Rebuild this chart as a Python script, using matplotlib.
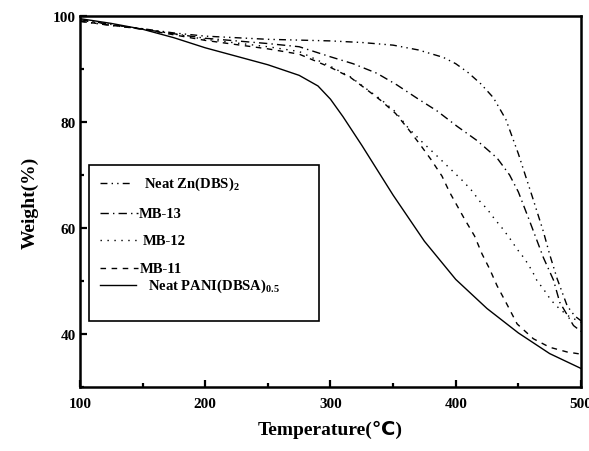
import matplotlib
matplotlib.use("Agg")
import matplotlib.pyplot as plt
from matplotlib.ticker import MultipleLocator
from matplotlib.patches import Rectangle

# TGA curves: temperature (°C) vs residual weight (%)
pani_T = [100, 125, 150, 175, 200, 225, 250, 275, 290, 300, 310, 325, 350, 375, 400, 425, 450, 475, 500]
pani_W = [99.5, 98.6, 97.5, 95.9, 94.0, 92.4, 90.8, 88.8, 86.8, 84.3, 81.0, 75.6, 66.2, 57.5, 50.3, 44.8, 40.2, 36.3, 33.5]

zn_T = [100, 125, 150, 175, 200, 250, 300, 325, 350, 370, 390, 400, 410, 420, 430, 440, 450, 457, 461, 470, 475, 481, 489, 495, 500]
zn_W = [99.0, 98.2, 97.6, 96.8, 96.2, 95.6, 95.3, 95.0, 94.5, 93.6, 92.2, 91.0, 89.3, 87.2, 84.6, 80.5, 74.0, 68.9, 66.0, 59.3, 55.0, 50.4, 45.3, 43.4, 42.5]

mb13_T = [100, 150, 200, 250, 275, 300, 318, 337, 353, 369, 385, 401, 417, 433, 443, 450, 459, 470, 478, 483, 494, 500]
mb13_W = [99.3, 97.5, 95.8, 94.8, 94.2, 92.3, 91.0, 89.2, 87.0, 84.5, 82.1, 79.2, 76.5, 73.2, 70.0, 66.8, 61.3, 54.4, 50.2, 46.0, 41.6, 40.5]

mb12_T = [100, 150, 200, 250, 275, 300, 316, 329, 340, 352, 362, 372, 385, 399, 406, 413, 419, 425, 431, 437, 443, 449, 455, 461, 465, 470, 476, 483, 490, 495, 500]
mb12_W = [99.2, 97.6, 95.6, 94.2, 93.3, 90.5, 88.5, 86.2, 84.3, 81.9, 78.9, 76.5, 73.6, 70.4, 68.8, 67.0, 65.1, 63.6, 61.7, 60.0, 58.1, 56.0, 54.2, 51.9, 50.0, 48.5, 46.4, 44.7, 43.4, 42.8, 42.2]

mb11_T = [100, 150, 200, 250, 275, 300, 316, 329, 340, 352, 362, 372, 380, 389, 395, 407, 415, 421, 427, 433, 440, 449, 462, 475, 489, 500]
mb11_W = [99.0, 97.5, 95.4, 93.8, 92.8, 90.3, 88.4, 86.1, 84.1, 81.6, 78.7, 75.6, 73.0, 69.8, 66.8, 61.7, 58.5, 55.1, 52.3, 49.1, 46.0, 41.9, 39.1, 37.5, 36.6, 36.2]

labels = ["Neat Zn(DBS)$_2$", "MB-13", "MB-12", "MB-11", "Neat PANI(DBSA)$_{0.5}$"]

plt.rcParams["font.family"] = ["Liberation Serif", "DejaVu Serif"]
plt.rcParams["font.weight"] = "bold"
plt.rcParams["mathtext.fontset"] = "custom"
plt.rcParams["mathtext.rm"] = "Liberation Serif:bold"
plt.rcParams["mathtext.it"] = "Liberation Serif:bold"
plt.rcParams["mathtext.bf"] = "Liberation Serif:bold"

fig = plt.figure(figsize=(5.89, 4.52), dpi=100)
ax = fig.add_axes([0.1358, 0.1416, 0.8506, 0.8208])

styles = [
    (0, (5, 3, 1, 3, 1, 3)),   # dash-dot-dot
    (0, (6, 3, 1, 3)),         # dash-dot
    (0, (1, 4)),               # dotted
    (0, (4, 4)),               # dashed
    "-",                       # solid
]
series = [(zn_T, zn_W), (mb13_T, mb13_W), (mb12_T, mb12_W), (mb11_T, mb11_W), (pani_T, pani_W)]

for (t, w), ls in zip(series, styles):
    ax.plot(t, w, color="black", lw=1.0, linestyle=ls)

ax.set_xlim(100, 500)
ax.set_ylim(30, 100)
ax.xaxis.set_major_locator(MultipleLocator(100))
ax.xaxis.set_minor_locator(MultipleLocator(50))
ax.set_yticks([40, 60, 80, 100])
ax.yaxis.set_minor_locator(MultipleLocator(10))
ax.tick_params(which="both", direction="in", width=1.6, top=False, right=False,
               labelsize=11)
ax.tick_params(which="major", length=5)
ax.tick_params(which="minor", length=3)
ax.tick_params(axis="x", pad=7)
ax.tick_params(axis="y", pad=3)
for sp in ax.spines.values():
    sp.set_linewidth(1.8)

ax.set_xlabel("Temperature(℃)", fontsize=14, fontweight="bold",
              family=["Liberation Serif", "DejaVu Sans"], labelpad=7)
ax.set_ylabel("Weight(%)", fontsize=14, fontweight="bold", labelpad=10)

# hand-built legend box
box = Rectangle((0.017, 0.178), 0.46, 0.42, transform=ax.transAxes,
                fill=False, edgecolor="black", lw=1.2)
ax.add_patch(box)
rows_y = [0.550, 0.468, 0.395, 0.320, 0.274]
handle_end = [0.100, 0.116, 0.116, 0.116, 0.111]
text_x = [0.127, 0.118, 0.126, 0.120, 0.135]
for y, he, tx, ls, lab in zip(rows_y, handle_end, text_x, styles, labels):
    ax.plot([0.040, he], [y, y], transform=ax.transAxes, color="black", lw=1.0, linestyle=ls)
    ax.text(tx, y, lab, transform=ax.transAxes, fontsize=10.5, fontweight="bold",
            va="center", ha="left")

fig.savefig("out.png", dpi=100)
